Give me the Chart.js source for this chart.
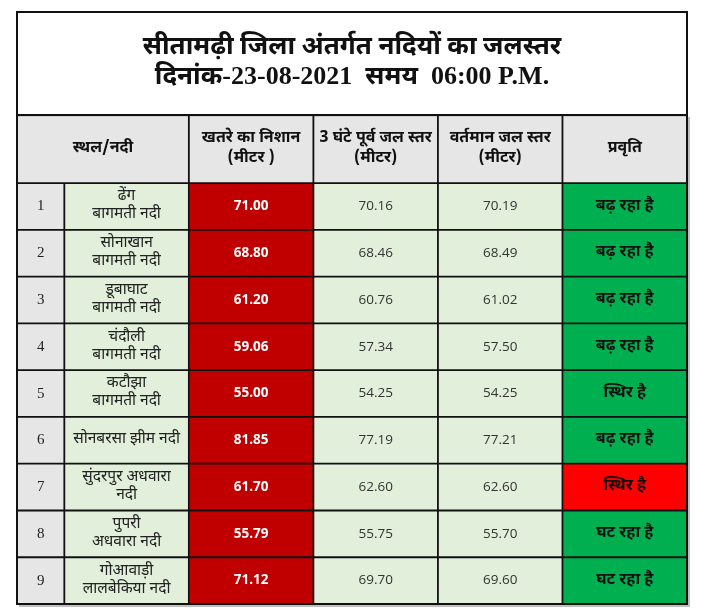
<!DOCTYPE html>
<html>
<head>
<meta charset="utf-8">
<script src="https://cdn.jsdelivr.net/npm/chart.js@4.4.0/dist/chart.umd.min.js"></script>
<style>
  html, body { margin: 0; padding: 0; background: #fff; }
  canvas { display: block; }
</style>
</head>
<body>
<canvas id="table" width="720" height="615"></canvas>
<script>
// table data
const titleLines = ['सीतामढ़ी जिला अंतर्गत नदियों का जलस्तर', 'दिनांक-23-08-2021  समय  06:00 P.M.'];
const headers = [['स्थल/नदी'], ['खतरे का निशान', '(मीटर )'], ['3 घंटे पूर्व जल स्तर', '(मीटर)'], ['वर्तमान जल स्तर', '(मीटर)'], ['प्रवृति']];
const places = [['ढेंग', 'बागमती नदी'], ['सोनाखान', 'बागमती नदी'], ['डूबाघाट', 'बागमती नदी'], ['चंदौली', 'बागमती नदी'], ['कटौझा', 'बागमती नदी'], ['सोनबरसा झीम नदी'], ['सुंदरपुर अधवारा', 'नदी'], ['पुपरी', 'अधवारा नदी'], ['गोआवाड़ी', 'लालबेकिया नदी']];
const dangerLevel = [71.00, 68.80, 61.20, 59.06, 55.00, 81.85, 61.70, 55.79, 71.12];
const level3hAgo = [70.16, 68.46, 60.76, 57.34, 54.25, 77.19, 62.60, 55.75, 69.70];
const levelNow = [70.19, 68.49, 61.02, 57.50, 54.25, 77.21, 62.60, 55.70, 69.60];
const trend = ['बढ़ रहा है', 'बढ़ रहा है', 'बढ़ रहा है', 'बढ़ रहा है', 'स्थिर है', 'बढ़ रहा है', 'स्थिर है', 'घट रहा है', 'घट रहा है'];

// layout (in axis units)
const colWidths = [0.38, 1, 1, 1, 1, 1];
const edges = colWidths.reduce((a, w) => { a.push(a[a.length - 1] + w); return a; }, [0]);
const headerBand = [-1.456, 0];
const titleBand = [-3.66, -1.456];

const GREY = '#e7e6e6', LIGHT = '#e2efda', DARKRED = '#c00000', GREEN = '#00b050', RED = '#ff0000';
const DEV = '"Noto Sans Devanagari", "Lohit Devanagari", "FreeSans", "Noto Sans", sans-serif';

const rows = dangerLevel.map((_, i) => i);
const colBars = c => rows.map(i => ({ x: [edges[c], edges[c + 1]], y: i + 0.5 }));

function cellSet(c, color) {
  return { data: colBars(c), backgroundColor: color, barPercentage: 1, categoryPercentage: 1 };
}

const headerSpans = [[0, 2], [2, 3], [3, 4], [4, 5], [5, 6]];
const mid = b => (b[0] + b[1]) / 2;

const datasets = [
  { data: [{ x: [0, edges[6]], y: mid(titleBand) }], backgroundColor: '#fff',
    barPercentage: titleBand[1] - titleBand[0], categoryPercentage: 1 },
  { data: headerSpans.map(s => ({ x: [edges[s[0]], edges[s[1]]], y: mid(headerBand) })), backgroundColor: GREY,
    barPercentage: headerBand[1] - headerBand[0], categoryPercentage: 1 },
  cellSet(0, GREY),
  cellSet(1, LIGHT),
  cellSet(2, DARKRED),
  cellSet(3, LIGHT),
  cellSet(4, LIGHT),
  cellSet(5, rows.map(i => levelNow[i] > dangerLevel[i] ? RED : GREEN))
];

function lines(ctx, arr, cx, cy, gap) {
  const off = (arr.length - 1) * gap / 2;
  arr.forEach((t, k) => ctx.fillText(t, cx, cy - off + k * gap));
}

const textPlugin = {
  id: 'cellText',
  afterDatasetsDraw(chart) {
    const { ctx, scales: { x, y } } = chart;
    const cx = c => x.getPixelForValue((edges[c] + edges[c + 1]) / 2);
    const cy = v => y.getPixelForValue(v);
    ctx.save();
    ctx.textAlign = 'center';
    ctx.textBaseline = 'middle';

    // frames
    ctx.strokeStyle = '#111';
    ctx.lineWidth = 2;
    const L = x.getPixelForValue(0), R = x.getPixelForValue(edges[6]);
    ctx.strokeRect(L, cy(titleBand[0]), R - L, cy(titleBand[1]) - cy(titleBand[0]));
    ctx.strokeRect(L, cy(headerBand[0]), R - L, cy(rows.length) - cy(headerBand[0]));
    ctx.lineWidth = 1.8;
    ctx.beginPath();
    for (let r = 0; r < rows.length; r++) { ctx.moveTo(L, cy(r)); ctx.lineTo(R, cy(r)); }
    for (let c = 1; c < 6; c++) {
      const px = x.getPixelForValue(edges[c]);
      ctx.moveTo(px, cy(c === 1 ? 0 : headerBand[0])); ctx.lineTo(px, cy(rows.length));
    }
    ctx.stroke();
    ctx.strokeStyle = 'rgba(0,0,0,0.25)';
    ctx.lineWidth = 2;
    ctx.beginPath();
    ctx.moveTo(R + 2, cy(headerBand[0]) + 2); ctx.lineTo(R + 2, cy(rows.length) + 2); ctx.lineTo(L + 2, cy(rows.length) + 2);
    ctx.stroke();

    // title
    ctx.fillStyle = '#111';
    ctx.font = 'bold 26px "Liberation Serif", ' + DEV;
    lines(ctx, titleLines, x.getPixelForValue(edges[6] / 2), cy(mid(titleBand)) - 1, 30);

    // headers
    ctx.font = 'bold 16px ' + DEV;
    headerSpans.forEach((s, k) => {
      const px = x.getPixelForValue((edges[s[0]] + edges[s[1]]) / 2);
      lines(ctx, headers[k], px, cy(mid(headerBand)), 20);
    });

    rows.forEach(i => {
      const py = cy(i + 0.5);
      ctx.fillStyle = '#222';
      ctx.font = '15px "Liberation Serif"';
      ctx.fillText(String(i + 1), cx(0), py);
      ctx.font = '15.5px ' + DEV;
      lines(ctx, places[i], cx(1), py, 18);
      ctx.font = 'bold 13.5px "Open Sans"';
      ctx.fillStyle = '#fff';
      ctx.fillText(dangerLevel[i].toFixed(2), cx(2), py);
      ctx.font = '13.5px "Open Sans"';
      ctx.fillStyle = '#333';
      ctx.fillText(level3hAgo[i].toFixed(2), cx(3), py);
      ctx.fillText(levelNow[i].toFixed(2), cx(4), py);
      ctx.font = 'bold 16px ' + DEV;
      ctx.fillStyle = '#111';
      ctx.fillText(trend[i], cx(5), py);
    });
    ctx.restore();
  }
};

new Chart(document.getElementById('table'), {
  type: 'bar',
  data: { datasets },
  options: {
    indexAxis: 'y',
    responsive: false,
    animation: false,
    layout: { padding: { left: 17, right: 33, top: 12, bottom: 11 } },
    datasets: { bar: { grouped: false, borderWidth: 0, clip: false } },
    scales: {
      x: { type: 'linear', min: 0, max: edges[6], display: false },
      y: { type: 'linear', reverse: true, min: titleBand[0], max: rows.length, display: false,
           afterBuildTicks: s => { s.ticks = []; } }
    },
    plugins: { legend: { display: false }, tooltip: { enabled: false } }
  },
  plugins: [textPlugin]
});
</script>
</body>
</html>
